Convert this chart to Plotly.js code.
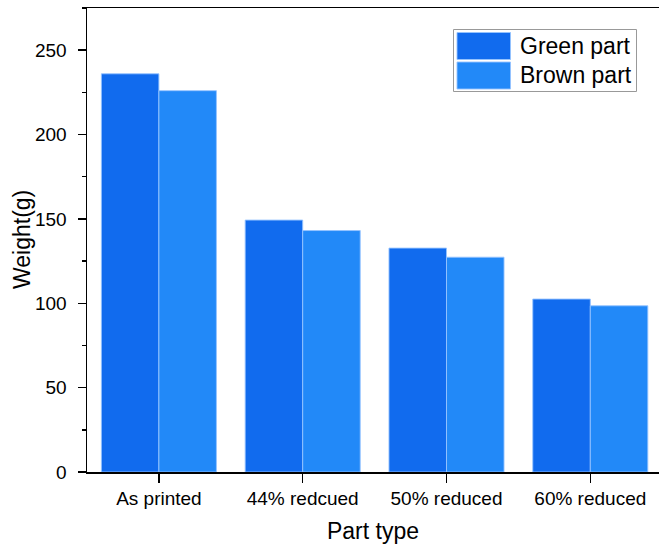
<!DOCTYPE html>
<html>
<head>
<meta charset="utf-8">
<script src="https://cdn.plot.ly/plotly-3.0.1.min.js"></script>
<style>
html,body{margin:0;padding:0;background:#fff;}
#chart{width:659px;height:550px;}
</style>
</head>
<body>
<div id="chart"></div>
<script>
const categories = ["As printed", "44% redcued", "50% reduced", "60% reduced"];
const greenPart = [236, 149.3, 132.7, 102.5];
const brownPart = [226, 143.1, 127.3, 98.5];
const seriesNames = ["Green part", "Brown part"];
const yTickVals = [0, 50, 100, 150, 200, 250];

const W = 659, H = 550;
const M = {l: 87, r: 0, t: 8, b: 78};
const pw = W - M.l - M.r, ph = H - M.t - M.b;
const px = x => (x - M.l) / pw;
const py = y => (H - M.b - y) / ph;

const FONT = "Arial, 'Liberation Sans', sans-serif";
const C1 = "#116bee", C2 = "#2289f8";
const edge = {color: "rgba(150,195,255,0.9)", width: 1};

const data = [
  {type: "bar", name: seriesNames[0], x: categories, y: greenPart,
   marker: {color: C1, line: edge}, showlegend: false},
  {type: "bar", name: seriesNames[1], x: categories, y: brownPart,
   marker: {color: C2, line: edge}, showlegend: false}
];

const layout = {
  width: W, height: H,
  margin: M,
  paper_bgcolor: "#fff", plot_bgcolor: "#fff",
  font: {family: FONT, color: "#000", size: 19},
  barmode: "group", bargap: 0.2, bargroupgap: 0,
  xaxis: {
    type: "category", range: [-0.5, -0.5 + pw / 143.8],
    showline: true, linecolor: "#000", linewidth: 1.5, mirror: true,
    ticks: "outside", ticklen: 9, tickwidth: 1.5, tickcolor: "#000",
    tickfont: {size: 19, family: FONT},
    showgrid: false, zeroline: false, automargin: false,
    title: {text: "Part type", font: {size: 23, family: FONT}, standoff: 14}
  },
  yaxis: {
    range: [0, 275], tickvals: yTickVals, ticktext: yTickVals.map(String),
    showline: true, linecolor: "#000", linewidth: 1.5,
    ticks: "outside", ticklen: 8, tickwidth: 1.5, tickcolor: "#000",
    ticklabelstandoff: 7,
    minor: {dtick: 25, tick0: 0, ticks: "outside", ticklen: 4, tickwidth: 1.5, tickcolor: "#000", showgrid: false},
    tickfont: {size: 19, family: FONT},
    showgrid: false, zeroline: false, automargin: false,
    title: {text: ""}
  },
  shapes: [
    {type: "rect", xref: "paper", yref: "paper", x0: px(453.5), x1: px(636.5), y0: py(91.5), y1: py(29.5),
     line: {color: "#999", width: 1}, fillcolor: "#fff", layer: "above"},
    {type: "rect", xref: "paper", yref: "paper", x0: px(457), x1: px(510.5), y0: py(59.5), y1: py(32.5),
     line: {color: "rgba(150,195,255,0.9)", width: 1}, fillcolor: C1, layer: "above"},
    {type: "rect", xref: "paper", yref: "paper", x0: px(457), x1: px(510.5), y0: py(89), y1: py(62),
     line: {color: "rgba(150,195,255,0.9)", width: 1}, fillcolor: C2, layer: "above"}
  ],
  annotations: [
    {xref: "paper", yref: "paper", x: px(22), y: py(240), xanchor: "center", yanchor: "middle",
     textangle: -90, text: "Weight(g)", showarrow: false, font: {size: 23, family: FONT, color: "#000"}},
    {xref: "paper", yref: "paper", x: px(518), y: py(46), xanchor: "left", yanchor: "middle",
     text: seriesNames[0], showarrow: false, font: {size: 23, family: FONT, color: "#000"}},
    {xref: "paper", yref: "paper", x: px(518), y: py(75), xanchor: "left", yanchor: "middle",
     text: seriesNames[1], showarrow: false, font: {size: 23, family: FONT, color: "#000"}}
  ]
};

Plotly.newPlot("chart", data, layout, {displayModeBar: false, staticPlot: true});
</script>
</body>
</html>
